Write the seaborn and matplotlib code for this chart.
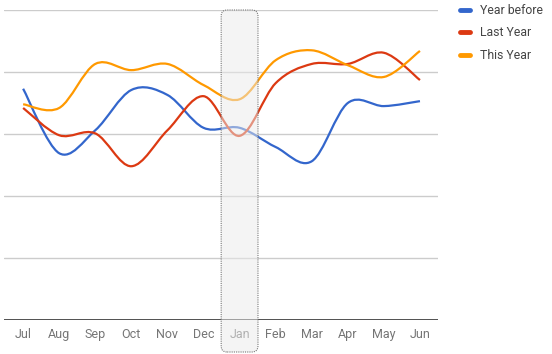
import numpy as np
import pandas as pd
import matplotlib.pyplot as plt
import seaborn as sns
from matplotlib.path import Path
from matplotlib.patches import PathPatch, FancyBboxPatch
from matplotlib.lines import Line2D
from matplotlib.transforms import IdentityTransform

# datos
months = ["Jul", "Aug", "Sep", "Oct", "Nov", "Dec", "Jan", "Feb", "Mar", "Apr", "May", "Jun"]
year_before = [3.73, 2.69, 3.06, 3.71, 3.63, 3.10, 3.10, 2.79, 2.56, 3.50, 3.45, 3.53]
last_year = [3.42, 2.98, 3.01, 2.48, 3.06, 3.61, 2.97, 3.82, 4.13, 4.13, 4.31, 3.87]
this_year = [3.48, 3.42, 4.13, 4.03, 4.13, 3.79, 3.56, 4.19, 4.35, 4.11, 3.92, 4.34]
series_names = ["Year before", "Last Year", "This Year"]
colors = ["#3366cc", "#dc3912", "#ff9900"]
highlight_month = "Jan"

df = pd.DataFrame({
    "Month": months * 3,
    "Value": year_before + last_year + this_year,
    "Series": [s for s in series_names for _ in months],
})

sns.set_style("white")
plt.rcParams["font.family"] = ["Roboto", "DejaVu Sans"]

fig = plt.figure(figsize=(5.52, 3.54), dpi=100)
ax = fig.add_axes([4 / 552, 34 / 354, 434 / 552, 310 / 354])

sns.lineplot(data=df, x="Month", y="Value", hue="Series", palette=colors,
             estimator=None, sort=False, legend=False, ax=ax, linewidth=1.6)


# suavizar las lineas (curva tipo catmull-rom)
def smooth_path(x, y):
    n = len(x)
    verts = [(x[0], y[0])]
    codes = [Path.MOVETO]
    for i in range(n - 1):
        a = max(i - 1, 0)
        b = min(i + 2, n - 1)
        c1 = (x[i] + (x[i + 1] - x[a]) / 6, y[i] + (y[i + 1] - y[a]) / 6)
        c2 = (x[i + 1] - (x[b] - x[i]) / 6, y[i + 1] - (y[b] - y[i]) / 6)
        verts += [c1, c2, (x[i + 1], y[i + 1])]
        codes += [Path.CURVE4] * 3
    return Path(verts, codes)


for line in list(ax.lines):
    xd = np.asarray(line.get_xdata(), dtype=float)
    yd = np.asarray(line.get_ydata(), dtype=float)
    patch = PathPatch(smooth_path(xd, yd), fill=False,
                      edgecolor=line.get_color(), linewidth=1.6, zorder=3)
    ax.add_patch(patch)
    line.remove()

ax.set_xlim(-0.53, 11.5)
ax.set_ylim(0, 5)
ax.set_yticks([1, 2, 3, 4, 5])
ax.set_yticklabels([])
ax.grid(axis="y", color="#cccccc", linewidth=1)
ax.grid(axis="x", visible=False)
ax.axhline(0, color="#333333", linewidth=1.2, zorder=4)
for s in ax.spines.values():
    s.set_visible(False)
ax.tick_params(axis="x", length=0, labelsize=9, labelcolor="#757575", pad=6)
ax.tick_params(axis="y", length=0)
ax.set_xlabel("")
ax.set_ylabel("")

# columna resaltada
fig.canvas.draw()
j = months.index(highlight_month)
x0 = ax.transData.transform((j - 0.51, 0))[0]
x1 = ax.transData.transform((j + 0.51, 0))[0]
ytop = ax.transAxes.transform((0, 1))[1]
box = FancyBboxPatch((x0, 2), x1 - x0, ytop - 2, boxstyle="round,pad=0,rounding_size=6",
                     transform=IdentityTransform(), facecolor=(0.92, 0.92, 0.92, 0.5),
                     edgecolor="#777777", linewidth=0.8, linestyle=(0, (1, 1)),
                     clip_on=False, zorder=10)
ax.add_artist(box)

handles = [Line2D([0], [0], color=c, linewidth=3.5) for c in colors]
fig.legend(handles, series_names, loc="upper left", bbox_to_anchor=(449 / 552, 1.02),
           frameon=False, fontsize=8.8, labelcolor="#444444", handlelength=0.8,
           handletextpad=0.8, labelspacing=0.78)

fig.savefig("out.png", dpi=100)
